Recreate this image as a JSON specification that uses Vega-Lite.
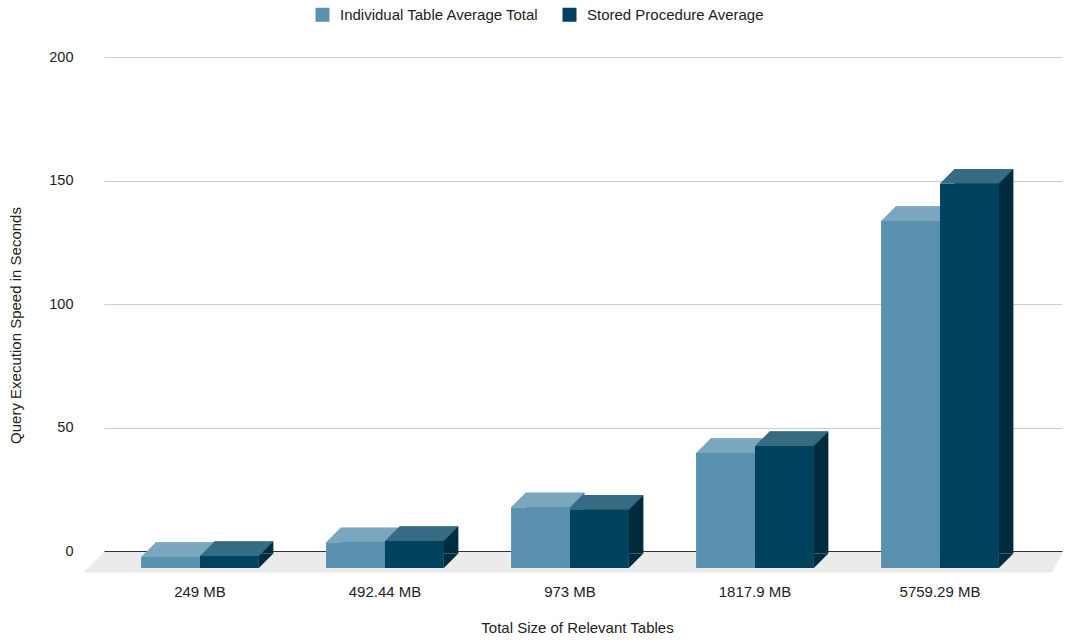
{
  "$schema": "https://vega.github.io/schema/vega-lite/v6.json",
  "width": 958,
  "height": 494,
  "autosize": "none",
  "padding": {"left": 104, "top": 57, "right": 3, "bottom": 90},
  "background": "white",
  "config": {"view": {"stroke": null}, "font": "Liberation Sans"},
  "data": {
    "values": [
      {"size": "249 MB", "series": "Individual Table Average Total", "value": 4.5},
      {"size": "249 MB", "series": "Stored Procedure Average", "value": 4.9},
      {"size": "492.44 MB", "series": "Individual Table Average Total", "value": 10.4},
      {"size": "492.44 MB", "series": "Stored Procedure Average", "value": 10.9},
      {"size": "973 MB", "series": "Individual Table Average Total", "value": 24.6},
      {"size": "973 MB", "series": "Stored Procedure Average", "value": 23.6},
      {"size": "1817.9 MB", "series": "Individual Table Average Total", "value": 46.6},
      {"size": "1817.9 MB", "series": "Stored Procedure Average", "value": 49.4},
      {"size": "5759.29 MB", "series": "Individual Table Average Total", "value": 140.5},
      {"size": "5759.29 MB", "series": "Stored Procedure Average", "value": 155.7}
    ]
  },
  "encoding": {
    "x": {
      "field": "size", "type": "nominal", "sort": null,
      "title": "Total Size of Relevant Tables",
      "scale": {"paddingInner": 0.363, "paddingOuter": 0.2706, "align": 0.37, "round": false},
      "axis": {"labelAngle": 0, "domain": false, "ticks": false, "grid": false, "labelPadding": 33, "labelFontSize": 15, "labelColor": "#222222", "titleFontSize": 15, "titleFontWeight": "normal", "titleColor": "#222222", "titlePadding": 21, "titleX": 473}
    },
    "y": {
      "field": "value", "type": "quantitative",
      "title": "Query Execution Speed in Seconds",
      "scale": {"domain": [0, 200], "nice": false},
      "axis": {"values": [0, 50, 100, 150, 200], "domain": false, "ticks": false, "labelPadding": 31, "labelFontSize": 14.5, "labelColor": "#222222",
        "gridColor": {"condition": {"test": "datum.value === 0", "value": "#333333"}, "value": "#cccccc"},
        "titleFontSize": 15, "titleFontWeight": "normal", "titleColor": "#222222", "titlePadding": 25, "titleY": 268}
    }
  },
  "layer": [
    {
      "transform": [{"filter": "datum.size === '249 MB' && datum.series === 'Individual Table Average Total'"}],
      "mark": {"type": "point", "shape": "M-96,1L863,1L852,21.5L-117,21.5Z", "size": 4, "filled": true, "color": "#ebebeb", "strokeWidth": 0, "opacity": 1},
      "encoding": {"y": {"datum": 0}}
    },
    {
      "transform": [{"filter": "datum.series === 'Individual Table Average Total'"}],
      "mark": {"type": "bar", "color": "#3c6c85", "width": 58.9, "xOffset": -14.95, "yOffset": 2.5, "y2Offset": 2.5}
    },
    {
      "transform": [{"filter": "datum.series === 'Individual Table Average Total'"}],
      "mark": {"type": "bar", "yOffset": 17, "y2Offset": 17},
      "encoding": {
        "xOffset": {"field": "series", "type": "nominal", "sort": ["Individual Table Average Total", "Stored Procedure Average"], "scale": {"domain": ["Individual Table Average Total", "Stored Procedure Average"]}},
        "color": {"field": "series", "type": "nominal",
          "scale": {"domain": ["Individual Table Average Total", "Stored Procedure Average"], "range": ["#5a91ae", "#01435f"]},
          "legend": {"orient": "none", "legendX": 211, "legendY": -50, "direction": "horizontal", "title": null, "symbolType": "square", "symbolSize": 196, "symbolStrokeWidth": 0, "labelFontSize": 15, "labelColor": "#222222", "labelOffset": 10, "labelLimit": 0, "columnPadding": 22, "padding": 0}}
      }
    },
    {
      "transform": [{"filter": "datum.series === 'Individual Table Average Total'"}],
      "mark": {"type": "point", "shape": "M-29.45,0L29.45,0L43.95,-14.5L-14.95,-14.5Z", "size": 4, "filled": true, "color": "#7aa7bf", "strokeWidth": 0, "opacity": 1, "yOffset": 17},
      "encoding": {
        "xOffset": {"field": "series", "type": "nominal", "sort": ["Individual Table Average Total", "Stored Procedure Average"], "scale": {"domain": ["Individual Table Average Total", "Stored Procedure Average"]}}
      }
    },
    {
      "transform": [{"filter": "datum.series === 'Stored Procedure Average'"}],
      "mark": {"type": "bar", "color": "#012c3e", "width": 58.9, "xOffset": 43.95, "yOffset": 2.5, "y2Offset": 2.5}
    },
    {
      "transform": [{"filter": "datum.series === 'Stored Procedure Average'"}],
      "mark": {"type": "point", "shape": "M29.45,0L29.45,-14.5L43.95,-14.5Z", "size": 4, "filled": true, "color": "#012c3e", "strokeWidth": 0, "opacity": 1, "yOffset": 17},
      "encoding": {
        "xOffset": {"field": "series", "type": "nominal", "sort": ["Individual Table Average Total", "Stored Procedure Average"], "scale": {"domain": ["Individual Table Average Total", "Stored Procedure Average"]}},
        "y": {"datum": 0}
      }
    },
    {
      "transform": [{"filter": "datum.series === 'Stored Procedure Average'"}],
      "mark": {"type": "bar", "yOffset": 17, "y2Offset": 17},
      "encoding": {
        "xOffset": {"field": "series", "type": "nominal", "sort": ["Individual Table Average Total", "Stored Procedure Average"], "scale": {"domain": ["Individual Table Average Total", "Stored Procedure Average"]}},
        "color": {"field": "series", "type": "nominal",
          "scale": {"domain": ["Individual Table Average Total", "Stored Procedure Average"], "range": ["#5a91ae", "#01435f"]},
          "legend": {"orient": "none", "legendX": 211, "legendY": -50, "direction": "horizontal", "title": null, "symbolType": "square", "symbolSize": 196, "symbolStrokeWidth": 0, "labelFontSize": 15, "labelColor": "#222222", "labelOffset": 10, "labelLimit": 0, "columnPadding": 22, "padding": 0}}
      }
    },
    {
      "transform": [{"filter": "datum.series === 'Stored Procedure Average'"}],
      "mark": {"type": "point", "shape": "M-29.45,0L29.45,0L43.95,-14.5L-14.95,-14.5Z", "size": 4, "filled": true, "color": "#356b83", "strokeWidth": 0, "opacity": 1, "yOffset": 17},
      "encoding": {
        "xOffset": {"field": "series", "type": "nominal", "sort": ["Individual Table Average Total", "Stored Procedure Average"], "scale": {"domain": ["Individual Table Average Total", "Stored Procedure Average"]}}
      }
    }
  ]
}
